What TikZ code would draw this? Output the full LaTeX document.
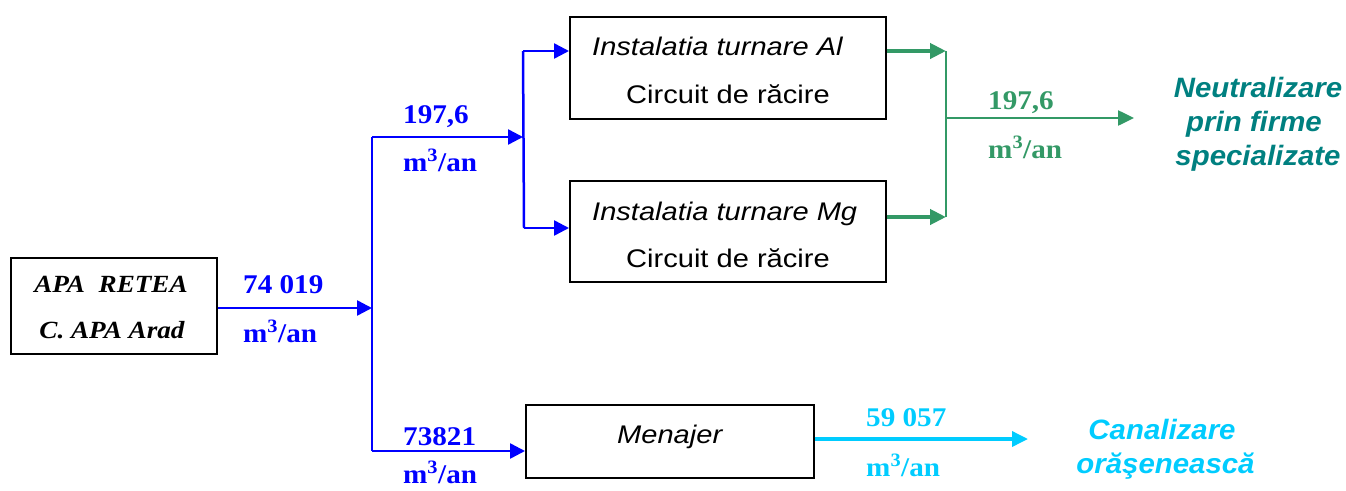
\documentclass[tikz,border=0pt]{standalone}
\usepackage{fontspec}
\setmainfont{Liberation Serif}
\newfontfamily\tnum[FakeStretch=1.08]{Liberation Serif}
\newfontfamily\tapa[FakeStretch=1.1]{Liberation Serif}
\newfontfamily\abox[FakeStretch=1.14]{Liberation Sans}
\newfontfamily\adest[FakeStretch=1.05]{Liberation Sans}
\usetikzlibrary{arrows.meta}
\definecolor{fblue}{RGB}{0,0,255}
\definecolor{fgreen}{RGB}{51,153,102}
\definecolor{fteal}{RGB}{0,128,128}
\definecolor{fcyan}{RGB}{0,204,255}
\tikzset{
  box/.style={draw=black,line width=1.5pt,inner sep=0pt,anchor=north west},
  boxit/.style={font=\abox\itshape\fontsize{25.5}{30}\selectfont,inner sep=0pt,anchor=base west},
  boxup/.style={font=\abox\fontsize{25.5}{30}\selectfont,inner sep=0pt,anchor=base west},
  apatxt/.style={font=\tapa\bfseries\itshape\fontsize{24.7}{30}\selectfont,inner sep=0pt,anchor=base},
  lbl/.style={font=\tnum\bfseries\fontsize{27}{30}\selectfont,inner sep=0pt,anchor=base west},
  tip/.style={-{Triangle[length=15pt,width=15pt]}},
  bigtip/.style={-{Triangle[length=16pt,width=15pt]}},
  blueline/.style={draw=fblue,line width=2.5pt},
  greenline/.style={draw=fgreen,line width=2.5pt},
  greenthick/.style={draw=fgreen,line width=4pt},
  cyanline/.style={draw=fcyan,line width=3.5pt},
  dest/.style={font=\adest\bfseries\itshape\fontsize{28}{34}\selectfont,inner sep=0pt,anchor=base}
}
\begin{document}
\begin{tikzpicture}[x=1pt,y=-1pt]
\useasboundingbox (0,0) rectangle (1346,490);
% boxes
\node[box,minimum width=206pt,minimum height=96pt] (apa) at (10,257) {};
\node[box,minimum width=316pt,minimum height=102pt] (al) at (569,16) {};
\node[box,minimum width=316pt,minimum height=101pt] (mg) at (569,180) {};
\node[box,minimum width=288pt,minimum height=73pt] (men) at (525,404) {};
% box texts
\node[apatxt] (apa1) at (111,292) {APA\ \ RETEA};
\node[apatxt] (apa2) at (112,338) {C. APA Arad};
\node[boxit] (al1) at (592,55) {Instalatia turnare Al};
\node[boxup] (al2) at (626,103) {Circuit de răcire};
\node[boxit] (mg1) at (592,220) {Instalatia turnare Mg};
\node[boxup] (mg2) at (626,267) {Circuit de răcire};
\node[boxit] (men1) at (617,443) {Menajer};
% blue flows
\coordinate (j1) at (372,308);
\coordinate (ja) at (372,137);
\coordinate (jb) at (372,451);
\coordinate (jc) at (523,137);
\coordinate (jt) at (523,51);
\coordinate (jbt) at (524,228);
\draw[blueline,tip] (apa.east |- j1) -- (j1);
\draw[blueline] (ja) -- (jb);
\draw[blueline,tip] (ja) -- (jc);
\draw[blueline] (jt) -- (jbt);
\draw[blueline,tip] (jt) -- (jt -| al.west);
\draw[blueline,tip] (jbt) -- (jbt -| mg.west);
\draw[blueline,tip] (jb) -- (jb -| men.west);
% green flows
\coordinate (g1) at (946,51);
\coordinate (g2) at (946,217);
\coordinate (g3) at (946,118);
\coordinate (gend) at (1134,118);
\draw[greenthick,bigtip] (g1 -| al.east) -- (g1);
\draw[greenthick,bigtip] (g2 -| mg.east) -- (g2);
\draw[greenline] (g1) -- (g2);
\draw[greenline,bigtip] (g3) -- (gend);
% cyan flow
\coordinate (cend) at (1028,439);
\draw[cyanline,bigtip] (men.east |- cend) -- (cend);
% labels
\node[lbl,text=fblue] (l1a) at (243,293) {74 019};
\node[lbl,text=fblue] (l1b) at (243,342) {m\textsuperscript{3}/an};
\node[lbl,text=fblue] (l2a) at (403,123) {197,6};
\node[lbl,text=fblue] (l2b) at (403,171) {m\textsuperscript{3}/an};
\node[lbl,text=fblue] (l3a) at (403,445) {73821};
\node[lbl,text=fblue] (l3b) at (403,483) {m\textsuperscript{3}/an};
\node[lbl,text=fgreen] (l4a) at (988,109) {197,6};
\node[lbl,text=fgreen] (l4b) at (988,158) {m\textsuperscript{3}/an};
\node[lbl,text=fcyan] (l5a) at (866,426) {59 057};
\node[lbl,text=fcyan] (l5b) at (866,476) {m\textsuperscript{3}/an};
% destinations
\node[dest,text=fteal] (neu1) at (1258,97) {Neutralizare};
\node[dest,text=fteal] (neu2) at (1254,131) {prin firme};
\node[dest,text=fteal] (neu3) at (1258,165) {specializate};
\node[dest,text=fcyan] (can1) at (1162,439) {Canalizare};
\node[dest,text=fcyan] (can2) at (1165.5,473) {orăşenească};
\end{tikzpicture}
\end{document}
